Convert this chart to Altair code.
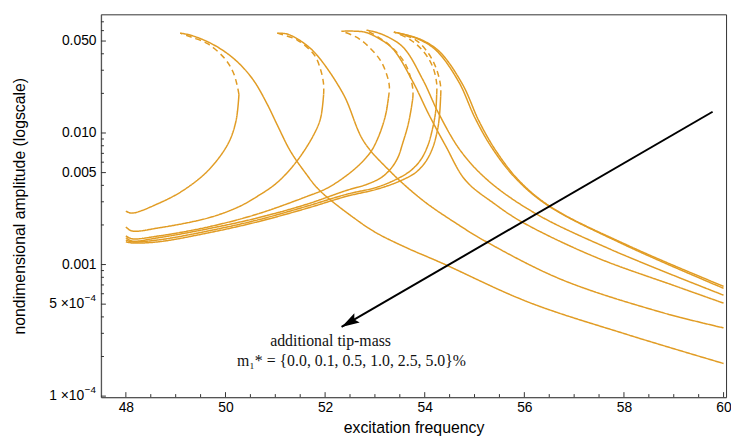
import altair as alt
import pandas as pd

# ---- curves: tip-mass m1* in %, (frequency, amplitude) along each branch ----
masses = ["5.0", "2.5", "1.0", "0.5", "0.1", "0.0"]

m50_lower = [(48.00, 0.00255), (48.12, 0.00246), (48.66, 0.00292), (49.15, 0.00366), (49.65, 0.00518),
             (50.05, 0.00826), (50.21, 0.0123), (50.27, 0.0196)]
m50_unstable = [(50.27, 0.0196), (50.23, 0.0234), (50.15, 0.0292), (49.99, 0.0366), (49.65, 0.0475),
                (49.31, 0.0536), (49.09, 0.0574)]
m50_upper = [(49.09, 0.0574), (49.29, 0.0555), (49.65, 0.0492), (49.99, 0.0414), (50.30, 0.0330),
             (50.58, 0.0246), (50.84, 0.0165), (51.04, 0.0115), (51.30, 0.00732), (51.60, 0.0050),
             (51.89, 0.00366), (52.63, 0.00219), (53.03, 0.00174), (53.62, 0.00135), (54.36, 0.00102),
             (56.07, 0.00052), (58.05, 0.000295), (60.0, 0.000177)]

m25_lower = [(48.00, 0.00193), (48.12, 0.00180), (48.66, 0.00190), (49.65, 0.00226), (50.25, 0.00273),
             (50.64, 0.00330), (51.04, 0.00421), (51.44, 0.00616), (51.78, 0.00983), (51.91, 0.0130),
             (51.97, 0.0196)]
m25_unstable = [(51.97, 0.0196), (51.97, 0.0234), (51.91, 0.0303), (51.78, 0.0393), (51.44, 0.0509),
                (51.10, 0.0565), (51.04, 0.0574)]
m25_upper = [(51.04, 0.0574), (51.24, 0.0565), (51.54, 0.0492), (51.83, 0.0393), (52.37, 0.0196),
             (52.77, 0.00871), (53.29, 0.00518), (53.96, 0.00308), (54.62, 0.00207), (55.21, 0.00151),
             (56.74, 0.000771), (58.73, 0.000436), (60.0, 0.000330)]

m10_lower = [(48.00, 0.00165), (48.12, 0.00157), (48.66, 0.00165), (49.65, 0.00193), (50.64, 0.00242),
             (51.64, 0.00330), (52.03, 0.00379), (52.43, 0.00475), (52.73, 0.00595), (52.93, 0.00732),
             (53.07, 0.00933), (53.17, 0.0119), (53.23, 0.0146), (53.27, 0.0183)]
m10_unstable = [(53.27, 0.0183), (53.29, 0.0226), (53.23, 0.0283), (53.09, 0.0366), (52.69, 0.0518),
                (52.33, 0.0594)]
m10_upper = [(52.33, 0.0594), (52.79, 0.0585), (53.05, 0.0530), (53.36, 0.0436), (53.76, 0.0246),
             (54.08, 0.0139), (54.42, 0.00798), (54.82, 0.00436), (55.41, 0.00288), (55.95, 0.00211),
             (57.40, 0.00115), (59.05, 0.000683), (60.0, 0.000509)]

m05_lower = [(48.00, 0.00160), (48.12, 0.00151), (48.66, 0.00160), (49.65, 0.00187), (50.64, 0.00226),
             (51.64, 0.00288), (52.43, 0.00366), (52.83, 0.00406), (53.13, 0.00459), (53.32, 0.00536),
             (53.46, 0.00649), (53.56, 0.00841), (53.66, 0.0113), (53.72, 0.0146), (53.76, 0.0183)]
m05_unstable = [(53.76, 0.0183), (53.76, 0.0218), (53.62, 0.0330), (53.29, 0.0467), (52.83, 0.0605)]
m05_upper = [(52.83, 0.0605), (53.13, 0.0565), (53.56, 0.0451), (53.96, 0.0255), (54.28, 0.0141),
             (54.72, 0.00732), (55.27, 0.00436), (56.21, 0.00246), (57.74, 0.00130), (60.0, 0.000585)]

m01_lower = [(48.00, 0.00154), (48.12, 0.00149), (48.66, 0.00154), (49.65, 0.00180), (50.64, 0.00218),
             (51.64, 0.00278), (52.43, 0.00342), (53.03, 0.00386), (53.42, 0.00443), (53.72, 0.00518),
             (53.92, 0.00626), (54.06, 0.00798), (54.16, 0.0109), (54.22, 0.0146), (54.24, 0.0196)]
m01_unstable = [(54.24, 0.0196), (54.24, 0.0238), (54.16, 0.0319), (53.98, 0.0414), (53.72, 0.0509),
                (53.38, 0.0585)]
m01_upper = [(53.38, 0.0585), (53.82, 0.0527), (54.22, 0.0428), (54.68, 0.0246), (55.01, 0.0130),
             (55.35, 0.00771), (55.81, 0.00459), (56.46, 0.00283), (58.05, 0.00139), (60.0, 0.000660)]

m00_lower = [(48.00, 0.00149), (48.12, 0.00146), (48.66, 0.00149), (49.65, 0.00174), (50.64, 0.00211),
             (51.64, 0.00268), (52.43, 0.00330), (53.03, 0.00373), (53.48, 0.00428), (53.82, 0.00501),
             (54.02, 0.00606), (54.16, 0.00771), (54.26, 0.0107), (54.30, 0.0141), (54.32, 0.0190)]
m00_unstable = [(54.32, 0.0190), (54.32, 0.0226), (54.24, 0.0303), (54.08, 0.0400), (53.82, 0.0509),
                (53.46, 0.0574)]
m00_upper = [(53.46, 0.0574), (53.90, 0.0518), (54.30, 0.0414), (54.76, 0.0234), (55.09, 0.0123),
             (55.43, 0.00732), (55.89, 0.00436), (56.54, 0.00273), (58.13, 0.00137), (60.0, 0.000683)]

branches = {
    "5.0": (m50_lower, m50_unstable, m50_upper),
    "2.5": (m25_lower, m25_unstable, m25_upper),
    "1.0": (m10_lower, m10_unstable, m10_upper),
    "0.5": (m05_lower, m05_unstable, m05_upper),
    "0.1": (m01_lower, m01_unstable, m01_upper),
    "0.0": (m00_lower, m00_unstable, m00_upper),
}

# ---- axis ticks ----
x_major = [48, 50, 52, 54, 56, 58, 60]
x_minor = [48.5, 49, 49.5, 50.5, 51, 51.5, 52.5, 53, 53.5, 54.5, 55, 55.5, 56.5, 57, 57.5, 58.5, 59, 59.5]
y_major = [0.05, 0.01, 0.005, 0.001, 0.0005, 0.0001]
y_minor = [0.0002, 0.0003, 0.0004, 0.0006, 0.0007, 0.0008, 0.0009,
           0.002, 0.003, 0.004, 0.006, 0.007, 0.008, 0.009,
           0.02, 0.03, 0.04, 0.06, 0.07]
# power-of-ten labels drawn as mantissa + raised exponent
sci_values = [0.0005, 0.0001]
sci_mantissa = ["5 \u00d710", "1 \u00d710"]
sci_exponent = ["\u22124", "\u22124"]

# ---- annotation ----
arrow_start = (59.78, 0.0145)
arrow_tip = (52.33, 0.000336)
arrow_head = (52.486, 0.000363)
label_line1 = "additional tip-mass"
label_line2 = "m\u2081* = {0.0, 0.1, 0.5, 1.0, 2.5, 5.0}%"
label_pos1 = (52.11, 0.000264)
label_pos2 = (52.53, 0.000186)

ORANGE = "#E19C24"

rows = []
for m in masses:
    for bname, pts in zip(["lower", "unstable", "upper"], branches[m]):
        style = "dashed" if bname == "unstable" else "solid"
        for i, (f, a) in enumerate(pts):
            rows.append({"mass": m, "branch": bname, "key": m + "-" + bname,
                         "style": style, "idx": i, "freq": f, "amp": a})
curves = pd.DataFrame(rows)

X_SCALE = alt.Scale(domain=[47.5, 60.05], nice=False, zero=False)
Y_SCALE = alt.Scale(type="log", domain=[9.83e-5, 0.0798], nice=False)

X_AXIS = alt.Axis(values=x_major, ticks=False, grid=False, title="excitation frequency",
                  labelPadding=4, titleY=23, titleBaseline="top", format="d",
                  domainColor="#555", domainWidth=1.3)
Y_AXIS = alt.Axis(values=y_major, ticks=False, grid=False,
                  title="nondimensional amplitude (logscale)",
                  labelExpr="datum.value >= 0.001 ? format(datum.value, '.3f') : ''",
                  labelPadding=5, titleX=-74, domainColor="#555", domainWidth=1.3)


def xe():
    return alt.X("freq:Q", scale=X_SCALE, axis=X_AXIS)


def ye():
    return alt.Y("amp:Q", scale=Y_SCALE, axis=Y_AXIS)


lines = alt.Chart(curves).mark_line(strokeWidth=1.5, color=ORANGE, interpolate="catmull-rom",
                                    clip=True).encode(
    x=xe(), y=ye(),
    detail="key:N",
    order="idx:Q",
    strokeDash=alt.StrokeDash("style:N", scale=alt.Scale(domain=["solid", "dashed"],
                                                         range=[[1, 0], [6, 4]]), legend=None),
)

yM = pd.DataFrame({"amp": y_major, "freq": [48.0] * len(y_major)})
ym = pd.DataFrame({"amp": y_minor, "freq": [48.0] * len(y_minor)})
xM = pd.DataFrame({"freq": x_major, "amp": [0.001] * len(x_major)})
xm = pd.DataFrame({"freq": x_minor, "amp": [0.001] * len(x_minor)})

ytM = alt.Chart(yM).mark_rule(color="#333", strokeWidth=1).encode(y=ye(), x=alt.value(0), x2=alt.value(5))
ytm = alt.Chart(ym).mark_rule(color="#333", strokeWidth=1).encode(y=ye(), x=alt.value(0), x2=alt.value(3))
xtM = alt.Chart(xM).mark_rule(color="#333", strokeWidth=1).encode(x=xe(), y=alt.value(387), y2=alt.value(382))
xtm = alt.Chart(xm).mark_rule(color="#333", strokeWidth=1).encode(x=xe(), y=alt.value(387), y2=alt.value(384))

sci_df = pd.DataFrame({"amp": sci_values, "mant": sci_mantissa, "expo": sci_exponent})
sci_mant = alt.Chart(sci_df).mark_text(font="Liberation Sans", fontSize=14, color="#000",
                                       align="right", baseline="middle").encode(
    y=ye(), x=alt.value(-17), text="mant:N")
sci_exp = alt.Chart(sci_df).mark_text(font="Liberation Sans", fontSize=10, color="#000",
                                      align="right", baseline="middle", dy=-6).encode(
    y=ye(), x=alt.value(-5), text="expo:N")

arrow_df = pd.DataFrame({"freq": [arrow_start[0]], "amp": [arrow_start[1]],
                         "freq2": [arrow_tip[0]], "amp2": [arrow_tip[1]]})
arrow = alt.Chart(arrow_df).mark_rule(color="black", strokeWidth=2).encode(
    x=xe(), y=ye(), x2="freq2:Q", y2="amp2:Q")
head_df = pd.DataFrame({"freq": [arrow_head[0]], "amp": [arrow_head[1]]})
head = alt.Chart(head_df).mark_point(
    shape="M0,-1L0.6,1L0,0.65L-0.6,1Z", filled=True, color="black", opacity=1,
    size=324, angle=240).encode(x=xe(), y=ye())

txt_df = pd.DataFrame({"freq": [label_pos1[0], label_pos2[0]], "amp": [label_pos1[1], label_pos2[1]],
                       "t": [label_line1, label_line2]})
txt = alt.Chart(txt_df).mark_text(font="Liberation Serif", fontSize=16, color="#111",
                                  baseline="middle", align="center").encode(
    x=xe(), y=ye(), text="t:N")

chart = alt.layer(lines, ytM, ytm, xtM, xtm, sci_mant, sci_exp, arrow, head, txt).properties(
    width=632, height=387,
    autosize=alt.AutoSizeParams(type="none"),
    padding={"left": 94, "top": 4, "right": 5, "bottom": 42},
).configure_view(stroke="#333", strokeWidth=1).configure_axis(
    labelFont="Liberation Sans", titleFont="Liberation Sans", labelFontSize=14, titleFontSize=16,
    titleFontWeight="normal", labelColor="#000", titleColor="#000"
)

chart.save("out.html", embed_options={"renderer": "svg", "actions": False})
